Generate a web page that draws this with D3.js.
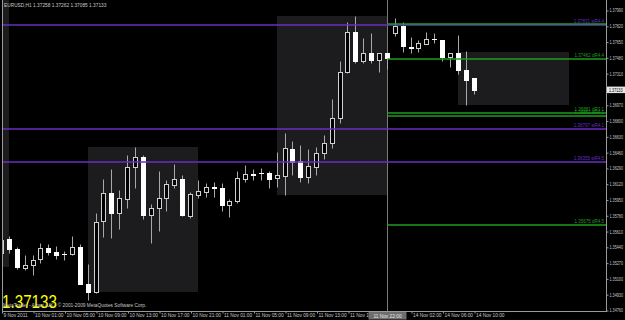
<!DOCTYPE html>
<html><head><meta charset="utf-8">
<script src="https://cdn.jsdelivr.net/npm/d3@7"></script>
<style>html,body{margin:0;padding:0;background:#000;overflow:hidden}svg{display:block}</style>
</head><body>
<svg id="chart" width="625" height="320"></svg>
<script>
// ---------- data ----------
const symbolTitle = "EURUSD,H1";
const openP  = [1.35374,1.35521,1.35414,1.35215,1.35248,1.35306,1.35431,1.35384,1.35358,1.35360,
                1.35442,1.35040,1.34954,1.35715,1.36016,1.35808,1.35958,1.36296,1.36404,1.35786,
                1.35855,1.35963,1.36109,1.36174,1.35772,1.36001,1.36034,1.36081,1.36070,1.35887,
                1.35930,1.36170,1.36219,1.36232,1.36238,1.36178,1.36206,1.36493,1.36361,1.36192,
                1.36303,1.36447,1.36555,1.36824,1.37319,1.37750,1.37444,1.37530,1.37455,1.37524,
                1.37739,1.37818,1.37590,1.37584,1.37621,1.37677,1.37667,1.37487,1.37530,1.37344,1.37258];
const highP  = [1.35557,1.35557,1.35435,1.35352,1.35352,1.35478,1.35467,1.35449,1.35395,1.35560,
                1.35471,1.35255,1.35801,1.36167,1.36275,1.36052,1.36429,1.36512,1.36429,1.35901,
                1.36260,1.36160,1.36332,1.36217,1.36034,1.36160,1.36131,1.36141,1.36124,1.35952,
                1.36257,1.36321,1.36278,1.36286,1.36257,1.36464,1.36663,1.36580,1.36537,1.36490,
                1.36512,1.36644,1.37029,1.37441,1.37858,1.37925,1.37685,1.37739,1.37524,1.37524,
                1.37901,1.37864,1.37703,1.37667,1.37756,1.37739,1.37667,1.37524,1.37721,1.37549,1.37262];
const lowP   = [1.35352,1.35370,1.35198,1.35191,1.35137,1.35263,1.35349,1.35306,1.35298,1.35352,
                1.35035,1.34868,1.34946,1.35549,1.35538,1.35629,1.35855,1.36070,1.35743,1.35485,
                1.35614,1.35823,1.36070,1.35772,1.35751,1.35966,1.35980,1.35973,1.35829,1.35765,
                1.35909,1.36141,1.36160,1.36160,1.36070,1.36088,1.35998,1.36217,1.36141,1.36131,
                1.36214,1.36383,1.36501,1.36770,1.37309,1.37423,1.37423,1.37416,1.37326,1.37352,
                1.37710,1.37538,1.37524,1.37541,1.37621,1.37638,1.37444,1.37380,1.37298,1.36967,1.37085];
const closeP = [1.35514,1.35414,1.35220,1.35245,1.35298,1.35431,1.35384,1.35355,1.35362,1.35442,
                1.35040,1.34951,1.35707,1.36016,1.35808,1.35963,1.36296,1.36404,1.35786,1.35855,
                1.35963,1.36117,1.36167,1.35780,1.36009,1.36038,1.36081,1.36077,1.35887,1.35937,
                1.36178,1.36224,1.36215,1.36238,1.36174,1.36210,1.36501,1.36350,1.36192,1.36310,
                1.36454,1.36555,1.36824,1.37326,1.37750,1.37444,1.37524,1.37452,1.37524,1.37470,
                1.37821,1.37602,1.37586,1.37632,1.37678,1.37673,1.37487,1.37524,1.37344,1.37236,1.37133];

const timeTickBars   = [0,4,8,12,16,20,24,28,32,36,40,44,52,56,60];
const timeTickLabels = ["9 Nov 2011","10 Nov 01:00","10 Nov 05:00","10 Nov 09:00","10 Nov 13:00",
                        "10 Nov 17:00","10 Nov 21:00","11 Nov 01:00","11 Nov 05:00","11 Nov 09:00",
                        "11 Nov 13:00","11 Nov 17:00","14 Nov 02:00","14 Nov 06:00","14 Nov 10:00"];
const priceTicks = [1.34760,1.34930,1.35100,1.35270,1.35440,1.35610,1.35780,1.35950,1.36120,1.36290,
                    1.36460,1.36630,1.36800,1.36970,1.37310,1.37480,1.37650,1.37820,1.37990];

const levelPrices    = [1.37831,1.37840,1.37462,1.36881,1.36851,1.36707,1.36355,1.35675];
const levelTags      = ["wR4.4","","dR4.4","dR3.1","dR4.1","wR4.1","wR4.5","dR4.5"];
const levelKinds     = ["w","d","d","d","d","w","w","d"];
const levelStartBars = [null,49,49,49,49,null,null,49];

const zoneStartBars = [-13,11,35,58];
const zoneEndBars   = [1,25,49,72];
const zoneHigh      = [1.38100,1.36510,1.37925,1.37541];
const zoneLow       = [1.35223,1.34950,1.35998,1.36967];

const markerBar = 49;
const markerLabel = "11 Nov 22:00";
const lastPrice = 1.37133;
const copyrightText = "MetaTrader - Alpari (UK), \u00a9 2001-2009 MetaQuotes Software Corp.";

// ---------- drawing ----------
const svg = d3.select("#chart");
const W = 625, H = 320;
const plotL = 2, plotR = 606, plotT = 0, plotB = 311;
const fontFam = "'Liberation Sans', Arial, sans-serif";
const fs = 4.8;
const colW = "#6a2cc4", colD = "#1e9e1e", txtCol = "#c8c8c8";
const fmt = d3.format(".5f");

svg.append("rect").attr("width", W).attr("height", H).attr("fill", "#000");

const x = d3.scaleLinear().domain([0, 60]).range([1.5, 474]);
const y = d3.scaleLinear().domain([1.3476, 1.3799]).range([310, 10]);

svg.append("defs").append("clipPath").attr("id", "plotclip")
  .append("rect").attr("x", plotL).attr("y", plotT).attr("width", plotR - plotL).attr("height", plotB - plotT);

const plot = svg.append("g").attr("clip-path", "url(#plotclip)");

// zones
const zones = zoneStartBars.map((s, i) => ({s, e: zoneEndBars[i], hi: zoneHigh[i], lo: zoneLow[i]}));
plot.selectAll("rect.zone").data(zones).enter().append("rect").attr("class", "zone")
  .attr("x", d => Math.round(x(d.s)))
  .attr("width", d => Math.round(x(d.e)) - Math.round(x(d.s)))
  .attr("y", d => Math.round(y(d.hi)))
  .attr("height", d => Math.round(y(d.lo)) - Math.round(y(d.hi)))
  .attr("fill", "#1c1c1e");

// vertical marker line
plot.append("line")
  .attr("x1", Math.floor(x(markerBar)) + 0.5).attr("x2", Math.floor(x(markerBar)) + 0.5)
  .attr("y1", plotT).attr("y2", plotB).attr("stroke", "#7a7a7a").attr("stroke-width", 1);

// candles
const bars = openP.map((o, i) => ({i, o, h: highP[i], l: lowP[i], c: closeP[i]}));
const cg = plot.append("g");
bars.forEach(d => {
  const c = Math.floor(x(d.i));
  const bull = d.c >= d.o;
  const yT = Math.round(y(Math.max(d.o, d.c))) + 0.5;
  const yB = Math.round(y(Math.min(d.o, d.c))) + 0.5;
  cg.append("line").attr("x1", c + 0.5).attr("x2", c + 0.5)
    .attr("y1", Math.round(y(d.h)) + 0.5).attr("y2", Math.round(y(d.l)) + 0.5)
    .attr("stroke", "#a8a8a8").attr("stroke-width", 1);
  if (yB - yT < 1) {
    cg.append("line").attr("x1", c - 2).attr("x2", c + 3).attr("y1", yT).attr("y2", yT)
      .attr("stroke", "#ffffff").attr("stroke-width", 1);
  } else {
    cg.append("rect").attr("x", c - 1.5).attr("width", 4)
      .attr("y", yT).attr("height", yB - yT)
      .attr("fill", bull ? "#000" : "#fff")
      .attr("stroke", bull ? "#d0d0d0" : "#fff").attr("stroke-width", 1);
  }
});

// levels
const levels = levelPrices.map((p, i) => ({p, tag: levelTags[i], kind: levelKinds[i], start: levelStartBars[i]}));
const lg = plot.append("g");
levels.forEach(d => {
  const col = d.kind === "w" ? colW : colD;
  const yy = Math.round(y(d.p));
  const x1 = d.start === null ? plotL : Math.floor(x(d.start)) + 0.5;
  lg.append("line").attr("x1", x1).attr("x2", plotR).attr("y1", yy).attr("y2", yy)
    .attr("stroke", col).attr("stroke-width", 1.4);
  if (d.tag) {
    lg.append("text").attr("x", plotR - 2).attr("y", yy - 1.8)
      .attr("text-anchor", "end").attr("fill", col)
      .attr("font-family", fontFam).attr("font-size", 4.5)
      .text(fmt(d.p) + " " + d.tag);
  }
});

// frame
svg.append("line").attr("x1", plotL + 0.5).attr("x2", plotL + 0.5).attr("y1", 0).attr("y2", plotB + 0.5).attr("stroke", "#9a9a9a");
svg.append("line").attr("x1", plotR + 0.5).attr("x2", plotR + 0.5).attr("y1", 0).attr("y2", plotB + 0.5).attr("stroke", "#9a9a9a");
svg.append("line").attr("x1", plotL).attr("x2", plotR + 1).attr("y1", plotB + 0.5).attr("y2", plotB + 0.5).attr("stroke", "#9a9a9a");

// price axis
const yAxis = d3.axisRight(y).tickValues(priceTicks).tickSize(2).tickPadding(1).tickFormat(fmt);
const ya = svg.append("g").attr("transform", `translate(${plotR + 0.5},0.5)`).call(yAxis);
ya.select(".domain").remove();
ya.selectAll("line").attr("stroke", "#9a9a9a");
ya.selectAll("text").attr("fill", txtCol).attr("font-family", fontFam).attr("font-size", 4.6)
  .attr("textLength", 13.5).attr("lengthAdjust", "spacingAndGlyphs");

// time axis
const xAxis = d3.axisBottom(x).tickValues(timeTickBars).tickSize(2)
  .tickFormat((d, i) => timeTickLabels[i]);
const xa = svg.append("g").attr("transform", `translate(0.5,${plotB + 0.5})`).call(xAxis);
xa.select(".domain").remove();
xa.selectAll("line").attr("stroke", "#9a9a9a");
xa.selectAll("text").attr("fill", txtCol).attr("font-family", fontFam).attr("font-size", fs)
  .attr("text-anchor", "start").attr("y", 2.5).attr("dx", 1);

// marker time box
const mx = Math.floor(x(markerBar)) + 0.5;
svg.append("rect").attr("x", mx - 19).attr("y", plotB + 1).attr("width", 38).attr("height", 7.5).attr("fill", "#6e6e6e");
svg.append("text").attr("x", mx).attr("y", 317.5).attr("text-anchor", "middle")
  .attr("fill", "#e8e8e8").attr("font-family", fontFam).attr("font-size", fs).text(markerLabel);

// last price box
const ly = y(lastPrice);
svg.append("rect").attr("x", plotR + 1).attr("y", ly - 3).attr("width", W - plotR).attr("height", 6.5).attr("fill", "#e6e6e6");
svg.append("text").attr("x", plotR + 3).attr("y", ly + 2).attr("fill", "#000")
  .attr("font-family", fontFam).attr("font-size", 4.6)
  .attr("textLength", 13.5).attr("lengthAdjust", "spacingAndGlyphs")
  .text(fmt(lastPrice));

// title
svg.append("text").attr("x", 4).attr("y", 7).attr("fill", txtCol)
  .attr("font-family", fontFam).attr("font-size", fs)
  .text(`${symbolTitle} ${fmt(openP[60])} ${fmt(highP[60])} ${fmt(lowP[60])} ${fmt(closeP[60])}`);

// big price
svg.append("text").attr("x", 2).attr("y", 308).attr("fill", "#ffff00")
  .attr("font-family", fontFam).attr("font-size", 18)
  .attr("textLength", 55).attr("lengthAdjust", "spacingAndGlyphs")
  .text(fmt(lastPrice));

// copyright
svg.append("text").attr("x", 3).attr("y", 306.5).attr("fill", txtCol)
  .attr("font-family", fontFam).attr("font-size", fs).text(copyrightText);
</script>
</body></html>
